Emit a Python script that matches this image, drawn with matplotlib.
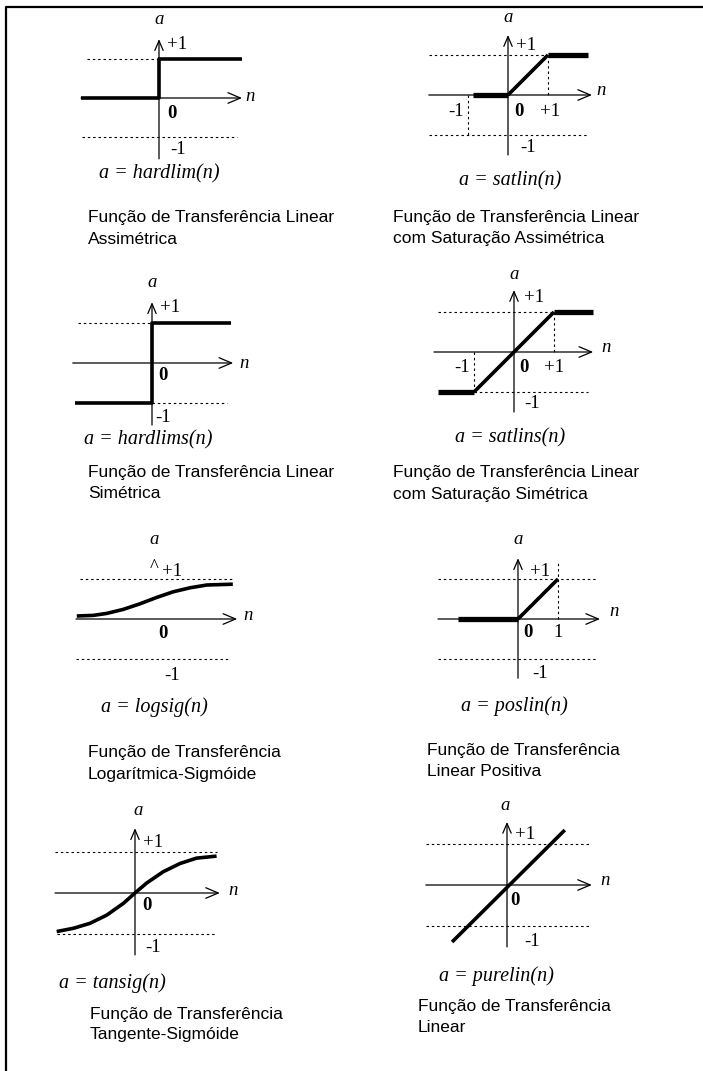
# Funções de transferência (redes neurais) - painel de 8 gráficos
import matplotlib
matplotlib.use('Agg')
import matplotlib.pyplot as plt
from matplotlib.lines import Line2D

W, H = 703, 1071
SERIF = 'Liberation Serif'
SANS = 'Liberation Sans'

# ---- dados das curvas (n, a) ----
hardlim_n = [-2.0, 0, 0, 2.13]
hardlim_a = [0, 0, 1, 1]

satlin_flat_lo_n = [-0.88, 0]
satlin_flat_lo_a = [0, 0]
satlin_ramp_n = [0, 1]
satlin_ramp_a = [0, 1]
satlin_flat_hi_n = [1, 2.0]
satlin_flat_hi_a = [1, 1]

hardlims_n = [-1.93, 0, 0, 1.98]
hardlims_a = [-1, -1, 1, 1]

satlins_flat_lo_n = [-1.9, -1]
satlins_flat_lo_a = [-1, -1]
satlins_ramp_n = [-1, 1]
satlins_ramp_a = [-1, 1]
satlins_flat_hi_n = [1, 1.98]
satlins_flat_hi_a = [1, 1]

logsig_n = [-1.93, -1.52, -1.18, -0.77, -0.35, 0.07, 0.48, 0.90, 1.32, 1.97]
logsig_a = [0.075, 0.09, 0.14, 0.24, 0.38, 0.54, 0.68, 0.78, 0.85, 0.87]

poslin_flat_n = [-1.5, 0]
poslin_flat_a = [0, 0]
poslin_ramp_n = [0, 1]
poslin_ramp_a = [0, 1]

tansig_n = [-1.91, -1.5, -1.1, -0.69, -0.28, 0, 0.28, 0.69, 1.1, 1.5, 1.99]
tansig_a = [-0.94, -0.86, -0.74, -0.54, -0.25, 0, 0.24, 0.52, 0.72, 0.85, 0.9]

purelin_n = [-1.34, 1.41]
purelin_a = [-1.39, 1.34]

formulas = ['a = hardlim(n)', 'a = satlin(n)', 'a = hardlims(n)', 'a = satlins(n)',
            'a = logsig(n)', 'a = poslin(n)', 'a = tansig(n)', 'a = purelin(n)']
captions = [('Função de Transferência Linear', 'Assimétrica'),
            ('Função de Transferência Linear', 'com Saturação Assimétrica'),
            ('Função de Transferência Linear', 'Simétrica'),
            ('Função de Transferência Linear', 'com Saturação Simétrica'),
            ('Função de Transferência', 'Logarítmica-Sigmóide'),
            ('Função de Transferência', 'Linear Positiva'),
            ('Função de Transferência', 'Tangente-Sigmóide'),
            ('Função de Transferência', 'Linear')]

fig = plt.figure(figsize=(W / 100, H / 100), dpi=100)
fig.patch.set_facecolor('white')

# moldura (topo e esquerda)
fig.add_artist(Line2D([5.5 / W, 5.5 / W, 1], [0, 1 - 6.5 / H, 1 - 6.5 / H],
                      transform=fig.transFigure, color='black', lw=1.6))

harrow = dict(arrowstyle='->,head_length=0.9,head_width=0.38', lw=0.9, color='black',
              shrinkA=0, shrinkB=0)
varrow = dict(arrowstyle='->,head_length=0.7,head_width=0.3', lw=0.9, color='black',
              shrinkA=0, shrinkB=0)
DOT = dict(color='black', lw=0.8, linestyle=(0, (2.2, 2.6)))
THICK = dict(color='black', lw=2.6, solid_capstyle='butt')
SAT = dict(color='black', lw=3.8, solid_capstyle='butt')


def panel(ox, oy, u):
    l, r, t, b = ox - 125, ox + 135, oy - 95, oy + 105
    ax = fig.add_axes([l / W, 1 - b / H, (r - l) / W, (b - t) / H])
    ax.set_xlim((l - ox) / u, (r - ox) / u)
    ax.set_ylim((oy - b) / u, (oy - t) / u)
    ax.axis('off')
    return ax


def eixos(ax, hx, vy=None):
    ax.annotate('', xy=(hx[1], 0), xytext=(hx[0], 0), arrowprops=harrow, annotation_clip=False)
    if vy is not None:
        ax.annotate('', xy=(0, vy[1]), xytext=(0, vy[0]), arrowprops=varrow, annotation_clip=False)


def rot(ax, x, y, s, size=13.5, bold=False, italic=False, ha='center'):
    ax.text(x, y, s, fontfamily=SERIF, fontsize=size, ha=ha, va='center',
            fontweight='bold' if bold else 'normal',
            fontstyle='italic' if italic else 'normal')


def legenda(ax, x, y, s):
    ax.text(x, y, s, fontfamily=SERIF, fontsize=14.5, fontstyle='italic', ha='center', va='center')


def titulo(x, y, linhas):
    for k, s in enumerate(linhas):
        fig.text(x / W, 1 - (y + 21 * k) / H, s, fontfamily=SANS, fontsize=12.5,
                 ha='left', va='center')


# ---- 1: hardlim ----
ax = panel(159, 98, 39)
ax.plot([-1.85, 0], [1, 1], **DOT)
ax.plot([-1.97, 2.0], [-1, -1], **DOT)
eixos(ax, (-2.0, 2.13), (-1.56, 1.51))
ax.plot(hardlim_n, hardlim_a, **THICK)
rot(ax, 0, 2.0, 'a', 13.5, italic=True)
rot(ax, 0.2, 1.36, '+1', ha='left')
rot(ax, 0.33, -0.4, '0', bold=True)
rot(ax, 0.5, -1.33, '-1')
rot(ax, 2.33, 0.05, 'n', 13.5, italic=True)
legenda(ax, 0.0, -1.95, formulas[0])
titulo(88, 218, captions[0])

# ---- 2: satlin ----
ax = panel(508, 95, 40)
ax.plot([-1.98, 1], [1, 1], **DOT)
ax.plot([-1.98, 2.0], [-1, -1], **DOT)
ax.plot([-1, -1], [0, -1], **DOT)
ax.plot([1, 1], [1, 0], **DOT)
eixos(ax, (-1.98, 2.1), (-1.5, 1.5))
ax.plot(satlin_flat_lo_n, satlin_flat_lo_a, **SAT)
ax.plot(satlin_ramp_n, satlin_ramp_a, **THICK)
ax.plot(satlin_flat_hi_n, satlin_flat_hi_a, **SAT)
rot(ax, 0, 1.95, 'a', 13.5, italic=True)
rot(ax, 0.2, 1.25, '+1', ha='left')
rot(ax, -1.3, -0.4, '-1')
rot(ax, 0.27, -0.4, '0', bold=True)
rot(ax, 1.05, -0.4, '+1')
rot(ax, 0.5, -1.3, '-1')
rot(ax, 2.33, 0.12, 'n', 13.5, italic=True)
legenda(ax, 0.05, -2.15, formulas[1])
titulo(393, 218, captions[1])

# ---- 3: hardlims ----
ax = panel(152, 363, 40)
ax.plot([-1.85, 0], [1, 1], **DOT)
ax.plot([0, 1.88], [-1, -1], **DOT)
eixos(ax, (-1.98, 2.03), (-1.55, 1.52))
ax.plot(hardlims_n, hardlims_a, **THICK)
rot(ax, 0, 2.02, 'a', 13.5, italic=True)
rot(ax, 0.2, 1.38, '+1', ha='left')
rot(ax, 0.28, -0.32, '0', bold=True)
rot(ax, 0.28, -1.35, '-1')
rot(ax, 2.3, 0.0, 'n', 13.5, italic=True)
legenda(ax, -0.1, -1.93, formulas[2])
titulo(88, 473, captions[2])

# ---- 4: satlins ----
ax = panel(514, 352, 40)
ax.plot([-1.9, 1], [1, 1], **DOT)
ax.plot([-1, 1.85], [-1, -1], **DOT)
ax.plot([-1, -1], [0, -1], **DOT)
ax.plot([1, 1], [1, 0], **DOT)
eixos(ax, (-2.0, 1.98), (-1.5, 1.55))
ax.plot(satlins_flat_lo_n, satlins_flat_lo_a, **SAT)
ax.plot(satlins_ramp_n, satlins_ramp_a, **THICK)
ax.plot(satlins_flat_hi_n, satlins_flat_hi_a, **SAT)
rot(ax, 0, 1.93, 'a', 13.5, italic=True)
rot(ax, 0.25, 1.35, '+1', ha='left')
rot(ax, -1.3, -0.38, '-1')
rot(ax, 0.25, -0.38, '0', bold=True)
rot(ax, 1.0, -0.38, '+1')
rot(ax, 0.45, -1.28, '-1')
rot(ax, 2.3, 0.1, 'n', 13.5, italic=True)
legenda(ax, -0.1, -2.15, formulas[3])
titulo(393, 473, captions[3])

# ---- 5: logsig ----
ax = panel(154, 619, 40)
ax.plot([-1.85, 1.98], [1, 1], **DOT)
ax.plot([-1.95, 1.9], [-1, -1], **DOT)
eixos(ax, (-1.95, 2.08))
ax.plot(logsig_n, logsig_a, **THICK)
rot(ax, 0, 1.98, 'a', 13.5, italic=True)
rot(ax, 0, 1.3, '^', 13.5)
rot(ax, 0.2, 1.2, '+1', ha='left')
rot(ax, 0.23, -0.35, '0', bold=True)
rot(ax, 0.45, -1.4, '-1')
rot(ax, 2.35, 0.1, 'n', 13.5, italic=True)
legenda(ax, 0.0, -2.2, formulas[4])
titulo(88, 753, captions[4])

# ---- 6: poslin ----
ax = panel(518, 619, 40)
ax.plot([-2.0, 2.0], [1, 1], **DOT)
ax.plot([-2.0, 2.0], [-1, -1], **DOT)
ax.plot([1, 1], [0, 1.4], **DOT)
eixos(ax, (-2.0, 2.05), (-1.48, 1.52))
ax.plot(poslin_flat_n, poslin_flat_a, **SAT)
ax.plot(poslin_ramp_n, poslin_ramp_a, **THICK)
rot(ax, 0, 2.0, 'a', 13.5, italic=True)
rot(ax, 0.3, 1.2, '+1', ha='left')
rot(ax, 0.25, -0.33, '0', bold=True)
rot(ax, 1.0, -0.33, '1')
rot(ax, 0.55, -1.35, '-1')
rot(ax, 2.4, 0.18, 'n', 13.5, italic=True)
legenda(ax, -0.1, -2.18, formulas[5])
titulo(427, 751, captions[5])

# ---- 7: tansig ----
ax = panel(135, 893, 41)
ax.plot([-1.95, 2.0], [1, 1], **DOT)
ax.plot([-1.9, 2.0], [-1, -1], **DOT)
eixos(ax, (-1.95, 2.07), (-1.51, 1.58))
ax.plot(tansig_n, tansig_a, **THICK)
rot(ax, 0.07, 2.02, 'a', 13.5, italic=True)
rot(ax, 0.2, 1.24, '+1', ha='left')
rot(ax, 0.3, -0.3, '0', bold=True)
rot(ax, 0.45, -1.32, '-1')
rot(ax, 2.4, 0.07, 'n', 13.5, italic=True)
legenda(ax, -0.54, -2.2, formulas[6])
titulo(90, 1014, captions[6])

# ---- 8: purelin ----
ax = panel(507, 885, 41)
ax.plot([-1.98, 2.02], [1, 1], **DOT)
ax.plot([-1.98, 2.02], [-1, -1], **DOT)
eixos(ax, (-1.98, 2.07), (-1.51, 1.54))
ax.plot(purelin_n, purelin_a, **THICK)
rot(ax, -0.05, 1.95, 'a', 13.5, italic=True)
rot(ax, 0.2, 1.22, '+1', ha='left')
rot(ax, 0.2, -0.37, '0', bold=True)
rot(ax, 0.6, -1.39, '-1')
rot(ax, 2.4, 0.12, 'n', 13.5, italic=True)
legenda(ax, -0.25, -2.22, formulas[7])
titulo(418, 1007, captions[7])

fig.savefig('out.png', dpi=100)
